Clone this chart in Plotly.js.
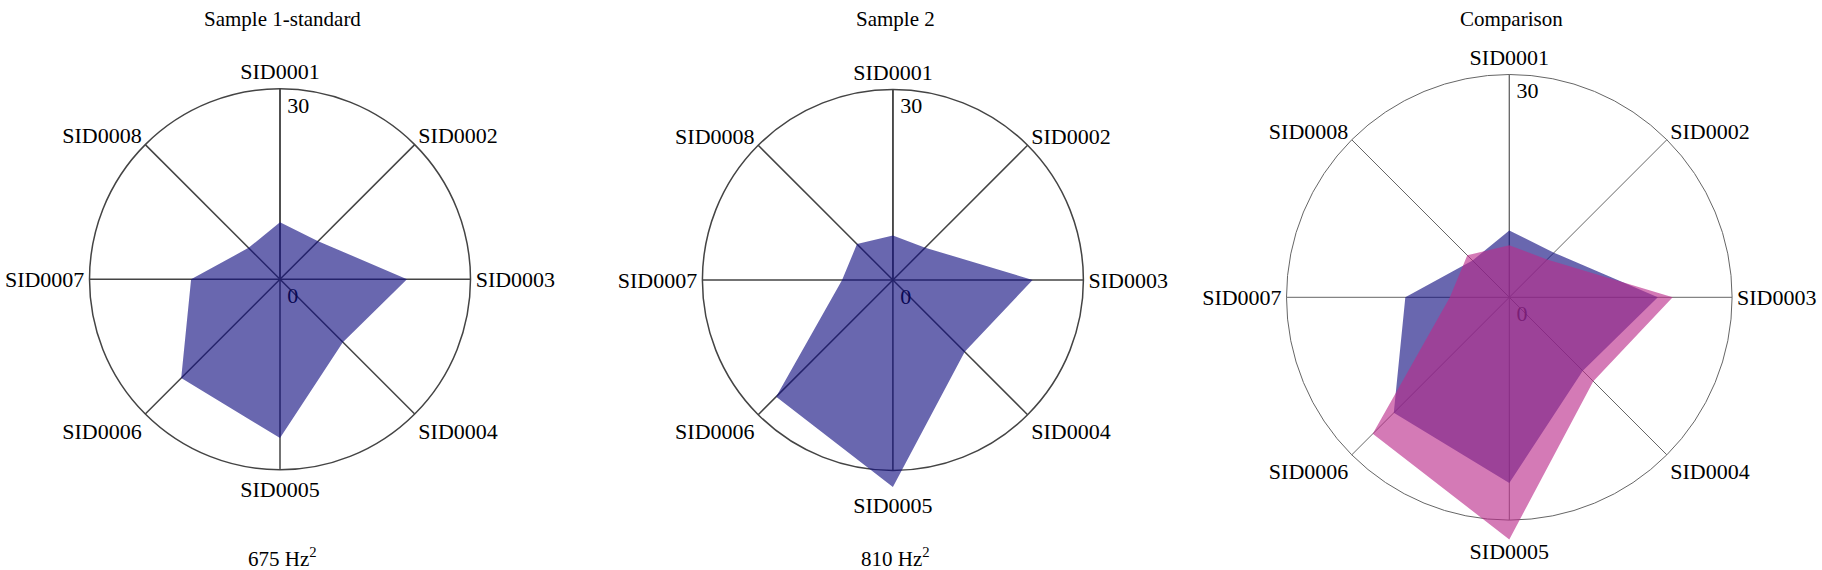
<!DOCTYPE html>
<html>
<head>
<meta charset="utf-8">
<script src="https://cdn.plot.ly/plotly-3.0.1.min.js"></script>
<style>
  html, body { margin: 0; padding: 0; background: #fff; }
  #chart { width: 1822px; height: 570px; }
</style>
</head>
<body>
<div id="chart"></div>
<script>
var sids = ['SID0001', 'SID0002', 'SID0003', 'SID0004', 'SID0005', 'SID0006', 'SID0007', 'SID0008'];
var sample1 = [9, 8.5, 20, 14, 25, 22, 14, 7];
var sample2 = [7, 7.2, 22, 16, 32.6, 26, 8, 8];
var radial_ticks = [30, 0];
var panel_titles = ['Sample 1-standard', 'Sample 2', 'Comparison'];
var panel_notes = ['675 Hz<sup>2</sup>', '810 Hz<sup>2</sup>'];

var W = 1822, H = 570;
var serif = 'Liberation Serif, Times New Roman, serif';
var blue = 'rgba(18,14,128,0.63)';
var pink = 'rgba(187,44,139,0.63)';

// circle centre / radius of each panel, in pixels.
// pushed: category label moved outward (clear of the data tip), at radius pushR
var panels = [
    {cx: 280, cy: 279.3, r: 190.5, lc: '#444', lw: 1.5, pushed: null},
    {cx: 892.9, cy: 280, r: 190.5, lc: '#444', lw: 1.5, pushed: 'SID0005', pushR: 35.8},
    {cx: 1509.3, cy: 297.3, r: 222.8, lc: '#666', lw: 1, pushed: 'SID0005', pushR: 34.5}
];
var rmax = 30;
var over = 1.2; // data layer gets a wider radial range so tips past 30 are not cut off

function square_domain(p, k){
    var r = p.r * k;
    return {
        x: [(p.cx - r) / W, (p.cx + r) / W],
        y: [1 - (p.cy + r) / H, 1 - (p.cy - r) / H]
    };
}

function area(values, color, subplot){
    return {
        type: 'scatterpolar',
        subplot: subplot,
        r: values,
        theta: sids,
        mode: 'lines',
        line: {width: 0, color: 'rgba(0,0,0,0)'},
        fill: 'toself',
        fillcolor: color,
        hoverinfo: 'skip',
        showlegend: false
    };
}

function tick_labels(subplot){
    return {
        type: 'scatterpolar',
        subplot: subplot,
        r: radial_ticks,
        theta: radial_ticks.map(function(){ return sids[0]; }),
        text: radial_ticks.map(String),
        mode: 'markers+text',
        marker: {size: 10, opacity: 0},
        textposition: 'bottom right',
        textfont: {family: serif, size: 22, color: '#000'},
        cliponaxis: false,
        hoverinfo: 'skip',
        showlegend: false
    };
}

function pushed_label(p, subplot){
    return {
        type: 'scatterpolar',
        subplot: subplot,
        r: [p.pushR],
        theta: [p.pushed],
        text: [p.pushed],
        mode: 'text',
        textposition: 'middle center',
        textfont: {family: serif, size: 22, color: '#000'},
        cliponaxis: false,
        hoverinfo: 'skip',
        showlegend: false
    };
}

function angular_base(){
    return {
        type: 'category',
        categoryorder: 'array',
        categoryarray: sids,
        rotation: 90,
        direction: 'clockwise'
    };
}

// frame: circle, spokes, category labels
function frame_axes(p){
    var ang = angular_base();
    ang.showline = true; ang.linecolor = p.lc; ang.linewidth = p.lw;
    ang.showgrid = true; ang.gridcolor = p.lc; ang.gridwidth = p.lw;
    ang.ticks = '';
    ang.tickmode = 'array';
    ang.tickvals = sids;
    ang.ticktext = sids.map(function(s){ return s === p.pushed ? ' ' : s; });
    ang.tickfont = {family: serif, size: 22, color: '#000'};
    return {
        domain: square_domain(p, 1),
        bgcolor: '#fff',
        angularaxis: ang,
        radialaxis: {
            range: [0, rmax], angle: 90,
            showgrid: false,
            showline: true, linecolor: p.lc, linewidth: p.lw,
            showticklabels: false, ticks: ''
        }
    };
}

// data layer: same centre, no visible axes
function data_axes(p){
    var ang = angular_base();
    ang.visible = false;
    return {
        domain: square_domain(p, over),
        bgcolor: 'rgba(0,0,0,0)',
        angularaxis: ang,
        radialaxis: {range: [0, rmax * over], visible: false}
    };
}

var data = [
    tick_labels('polar'), tick_labels('polar2'), tick_labels('polar3'),
    area(sample1, blue, 'polar4'),
    area(sample2, blue, 'polar5'), pushed_label(panels[1], 'polar5'),
    area(sample1, blue, 'polar6'), area(sample2, pink, 'polar6'), pushed_label(panels[2], 'polar6')
];

var annotations = [];
for (var i = 0; i < panel_titles.length; i++){
    annotations.push({
        xref: 'paper', yref: 'paper', x: panels[i].cx / W + 0.0012, y: 0.9675,
        xanchor: 'center', yanchor: 'middle', showarrow: false,
        text: panel_titles[i], font: {family: serif, size: 21, color: '#000'}
    });
}
for (var j = 0; j < panel_notes.length; j++){
    annotations.push({
        xref: 'paper', yref: 'paper', x: panels[j].cx / W + 0.0012, y: 0.022,
        xanchor: 'center', yanchor: 'middle', showarrow: false,
        text: panel_notes[j], font: {family: serif, size: 21, color: '#000'}
    });
}

var layout = {
    width: W,
    height: H,
    margin: {l: 0, r: 0, t: 0, b: 0},
    paper_bgcolor: '#fff',
    showlegend: false,
    font: {family: serif, color: '#000'},
    polar: frame_axes(panels[0]),
    polar2: frame_axes(panels[1]),
    polar3: frame_axes(panels[2]),
    polar4: data_axes(panels[0]),
    polar5: data_axes(panels[1]),
    polar6: data_axes(panels[2]),
    annotations: annotations
};

Plotly.newPlot('chart', data, layout, {staticPlot: true});
</script>
</body>
</html>
